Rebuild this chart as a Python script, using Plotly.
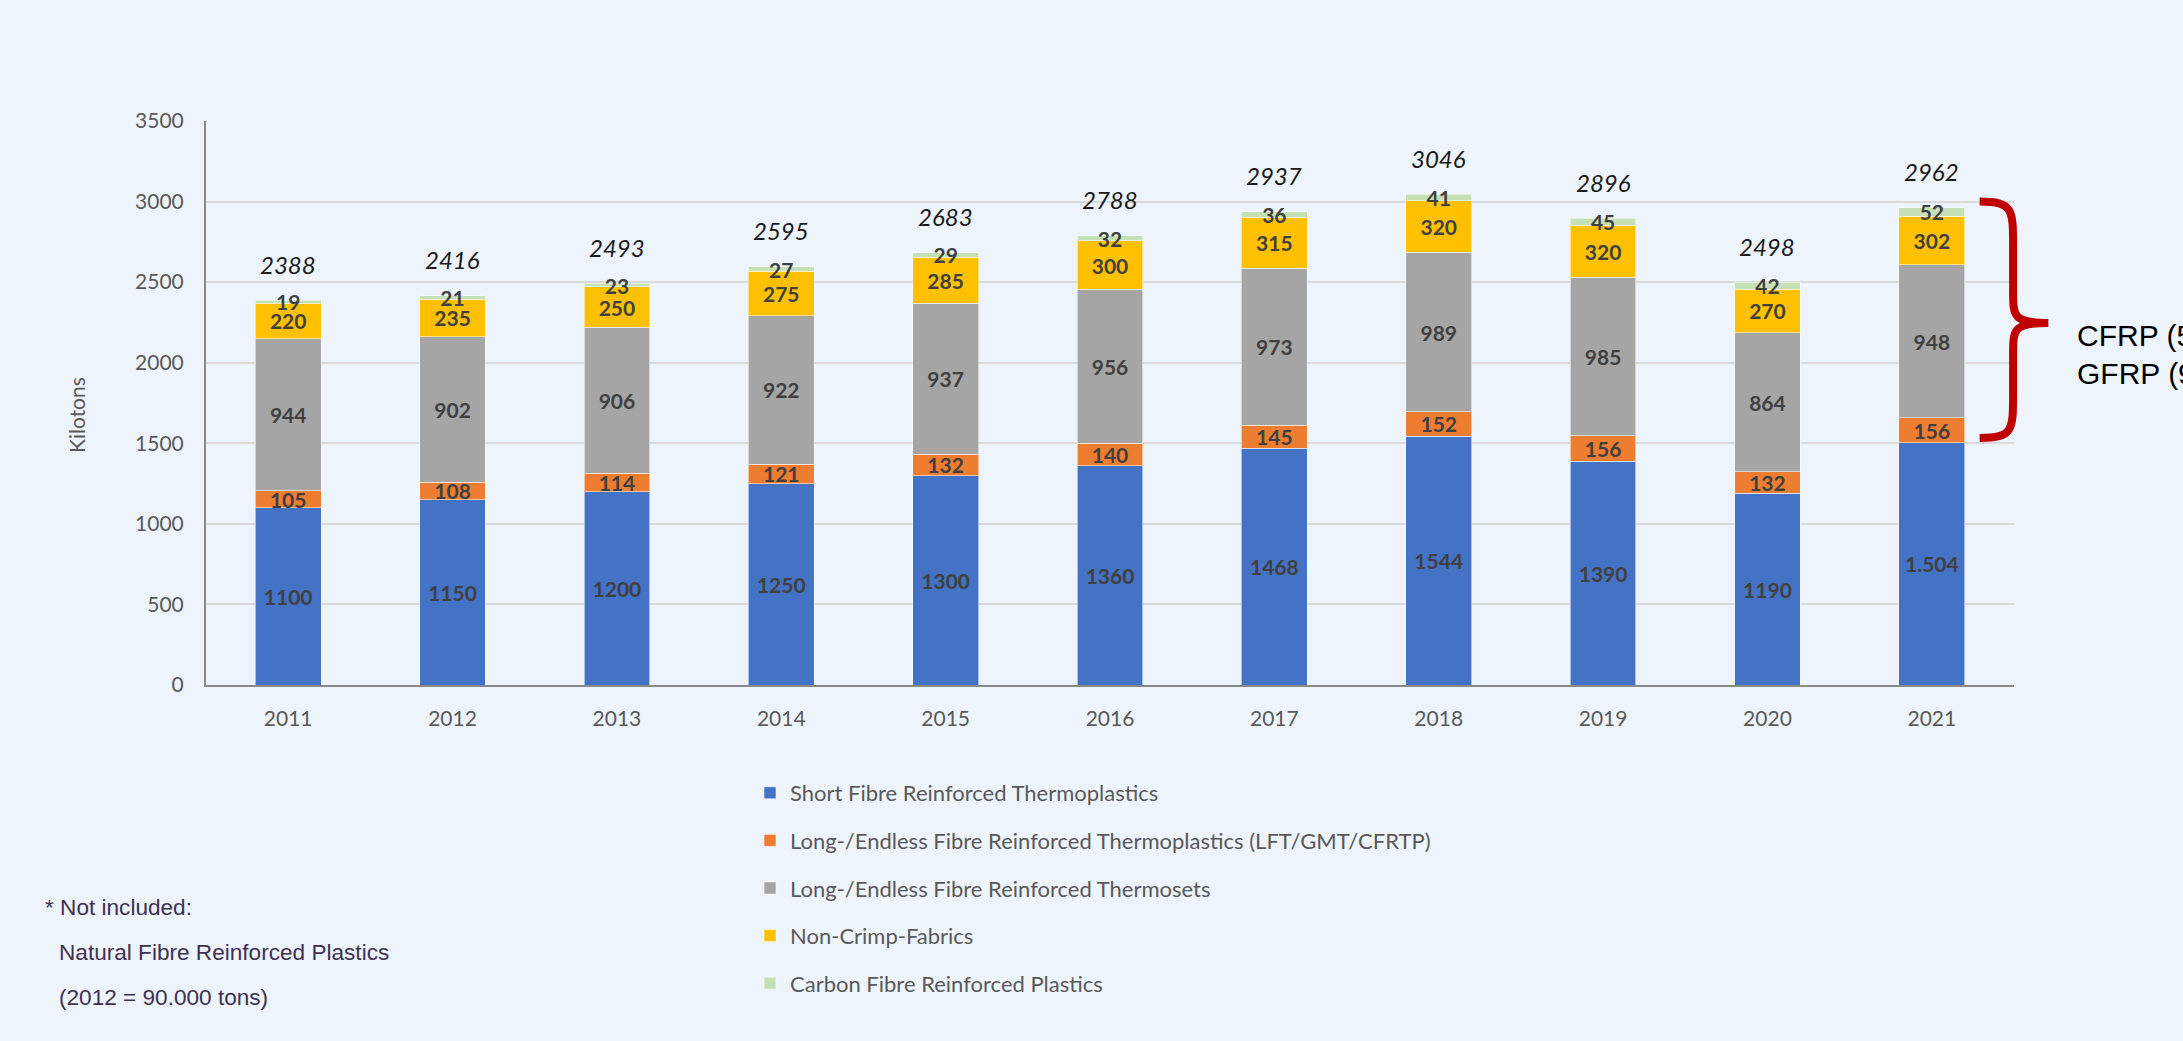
import plotly.graph_objects as go

years = ["2011", "2012", "2013", "2014", "2015", "2016", "2017", "2018", "2019", "2020", "2021"]
sfrt = [1100, 1150, 1200, 1250, 1300, 1360, 1468, 1544, 1390, 1190, 1504]
sfrt_labels = ["1100", "1150", "1200", "1250", "1300", "1360", "1468", "1544", "1390", "1190", "1.504"]
lft = [105, 108, 114, 121, 132, 140, 145, 152, 156, 132, 156]
thermosets = [944, 902, 906, 922, 937, 956, 973, 989, 985, 864, 948]
ncf = [220, 235, 250, 275, 285, 300, 315, 320, 320, 270, 302]
cfrp = [19, 21, 23, 27, 29, 32, 36, 41, 45, 42, 52]
totals = [2388, 2416, 2493, 2595, 2683, 2788, 2937, 3046, 2896, 2498, 2962]

series = [
    ("Short Fibre Reinforced Thermoplastics", sfrt, sfrt_labels, "#4472C4"),
    ("Long-/Endless Fibre Reinforced Thermoplastics (LFT/GMT/CFRTP)", lft, [str(v) for v in lft], "#ED7D31"),
    ("Long-/Endless Fibre Reinforced Thermosets", thermosets, [str(v) for v in thermosets], "#A5A5A5"),
    ("Non-Crimp-Fabrics", ncf, [str(v) for v in ncf], "#FFC000"),
    ("Carbon Fibre Reinforced Plastics", cfrp, [str(v) for v in cfrp], "#C5E0B4"),
]

BG = "#EDF4FC"
# body margin is removed by post_script, so the figure starts at the window origin
W, H = 2183, 1041
PL, PR, PT, PB = 206, 2014, 121, 685
PW, PH = PR - PL, PB - PT


def px(xw):
    return (xw - PL) / PW


def py(yw):
    return (PB - yw) / PH


fig = go.Figure()
for i, (name, vals, labels, color) in enumerate(series):
    fig.add_trace(go.Bar(
        x=years, y=vals, name=name, text=labels, texttemplate="%{text}",
        textposition="inside", insidetextanchor="middle", textangle=0,
        constraintext="none", cliponaxis=False,
        textfont=dict(family="Lato", size=21, color="#404040", weight="bold"),
        marker=dict(color=color, line=dict(color="rgba(255,255,255,0.55)", width=1)),
        width=0.4, legendgroup=f"g{i}", hoverinfo="skip",
    ))

annotations = []
for idx, tot in enumerate(totals):
    annotations.append(dict(
        x=idx, y=tot, xref="x", yref="y", text=str(tot), showarrow=False,
        yanchor="middle", yshift=36,
        font=dict(family="Lato", size=24, color="#1A1A1A", style="italic"),
    ))

# y axis title
annotations.append(dict(
    x=px(77), y=py(415), xref="paper", yref="paper", text="Kilotons", textangle=-90,
    showarrow=False, xanchor="center", yanchor="middle",
    font=dict(family="Lato", size=21, color="#595959"),
))

# footnote
note_font = dict(family="Liberation Sans", size=22.6, color="#3F3151")
for txt, xw, yw in [("* Not included:", 43, 907), ("Natural Fibre Reinforced Plastics", 57, 952),
                    ("(2012 = 90.000 tons)", 57, 997)]:
    annotations.append(dict(
        x=px(xw), y=py(yw), xref="paper", yref="paper", text=txt, align="left",
        showarrow=False, xanchor="left", yanchor="middle", font=note_font,
    ))

# brace label (runs past the right edge, as in the reference)
for txt, yw in [("CFRP (5%)", 335), ("GFRP (95%)", 373)]:
    annotations.append(dict(
        x=px(2075), y=py(yw), xref="paper", yref="paper", text=txt, align="left",
        showarrow=False, xanchor="left", yanchor="middle",
        font=dict(family="Liberation Sans", size=30, color="#000000"),
    ))

xe, xs, xt = 0.981, 0.9995, 1.019
path = (f"M {xe},3000 C {xs},3000 {xs},2950 {xs},2720 L {xs},2440 "
        f"C {xs},2290 {xs},2247 {xt},2247 C {xs},2247 {xs},2204 {xs},2054 "
        f"L {xs},1810 C {xs},1580 {xs},1533 {xe},1533")
shapes = [dict(type="path", path=path, xref="paper", yref="y",
               line=dict(color="#C00000", width=8), layer="above")]

fig.update_layout(
    width=W, height=H, autosize=False,
    margin=dict(l=PL, r=W - PR, t=PT, b=H - PB),
    paper_bgcolor=BG, plot_bgcolor=BG,
    barmode="stack", bargap=0.6,
    showlegend=True,
    legend=dict(
        x=px(750), y=py(772), xanchor="left", yanchor="top", orientation="v",
        traceorder="grouped", tracegroupgap=16, bgcolor="rgba(0,0,0,0)",
        font=dict(family="Lato", size=22, color="#595959"),
    ),
    annotations=annotations,
    shapes=shapes,
    xaxis=dict(
        type="category", range=[-0.5, 10.5], autorange=False,
        showline=True, linecolor="#898989", linewidth=2,
        ticks="", showgrid=False, ticklabelstandoff=14,
        tickfont=dict(family="Lato", size=21, color="#595959"),
    ),
    yaxis=dict(
        range=[0, 3500], autorange=False, dtick=500, tick0=0, showline=True,
        linecolor="#898989", linewidth=2,
        showgrid=True, gridcolor="#D9D9D9", gridwidth=2, zeroline=False, ticks="",
        ticklabelstandoff=16,
        tickfont=dict(family="Lato", size=21, color="#595959"),
    ),
)

fig.write_html(
    "out.html",
    config={"displayModeBar": False},
    post_script=("document.body.style.margin='0';document.body.style.overflow='hidden';"
                 "document.body.style.background='#EDF4FC';"),
)
